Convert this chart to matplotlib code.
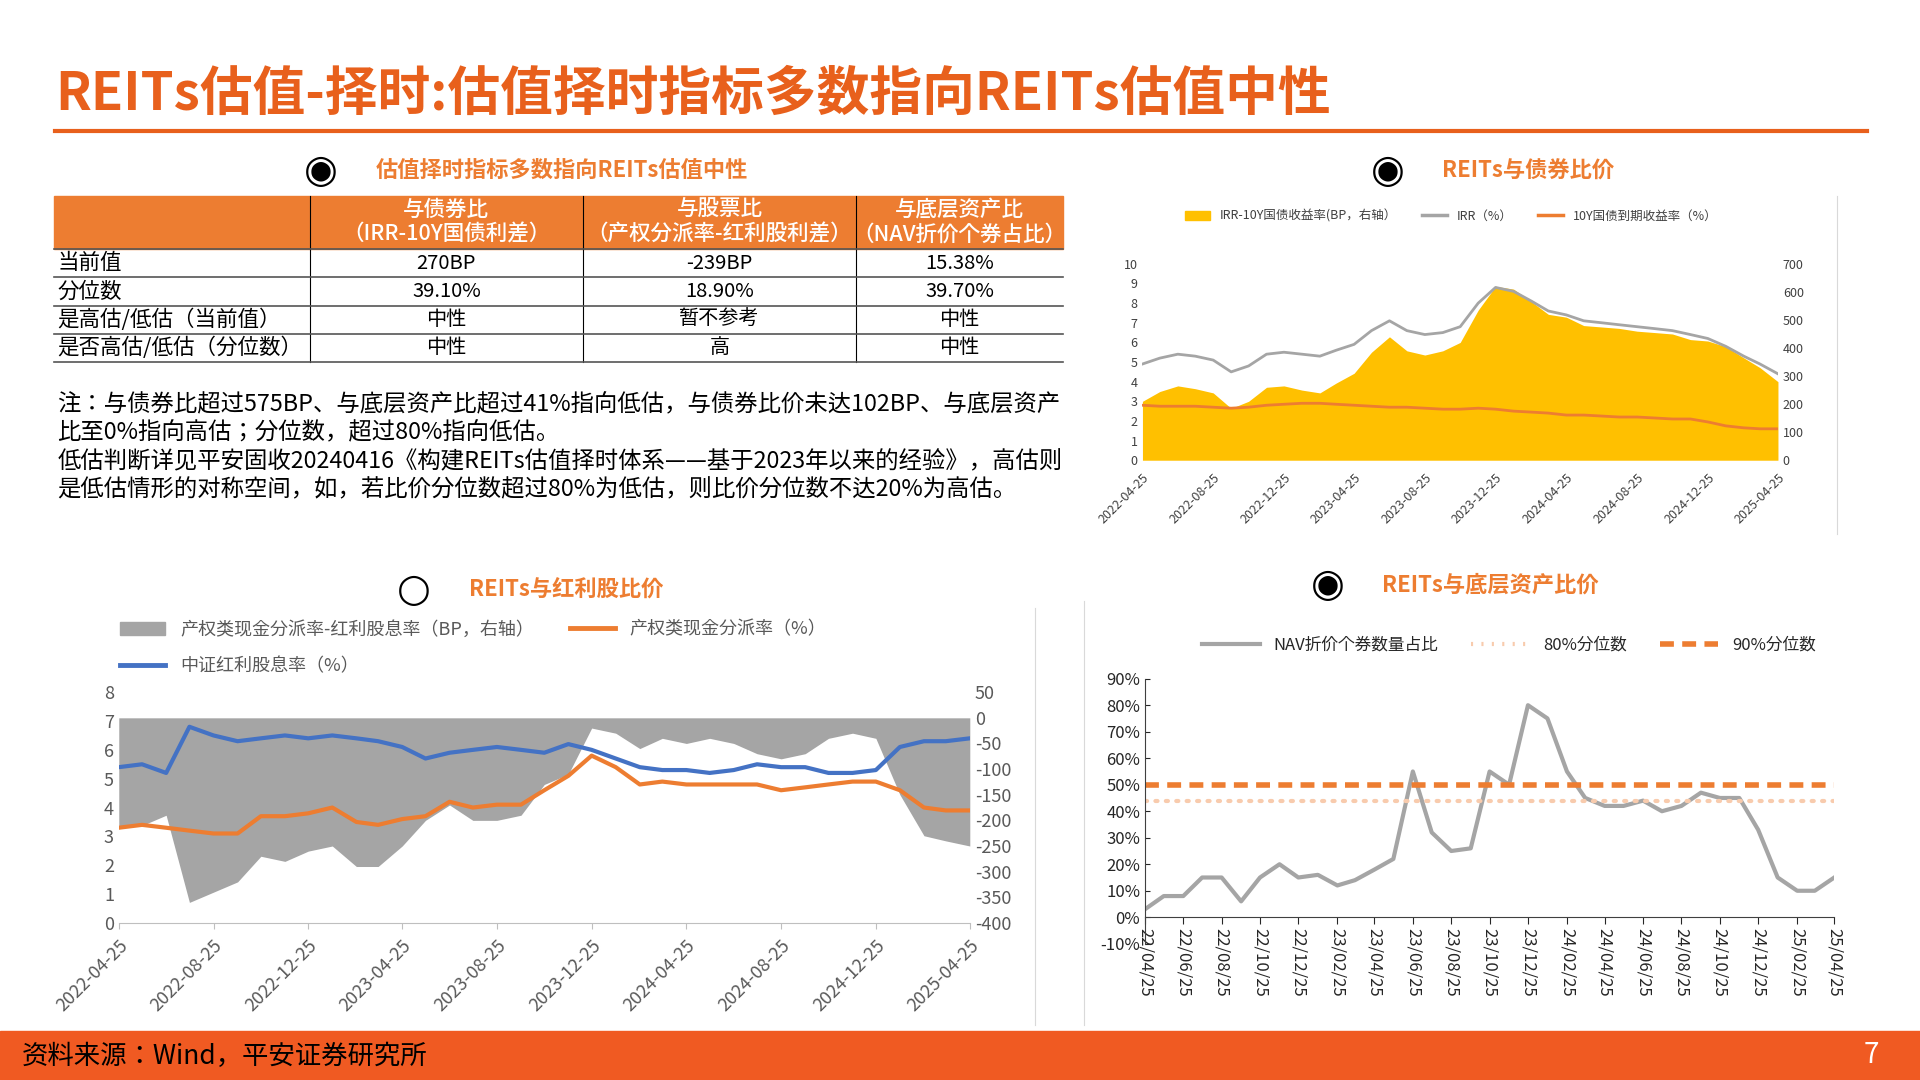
import numpy as np
import pandas as pd
import matplotlib.pyplot as plt
import matplotlib.dates as mdates
from matplotlib import font_manager as fm
from matplotlib.patches import Rectangle
from matplotlib.lines import Line2D

# find a CJK font file and register it
cjk_name = 'Noto Sans CJK SC'
for f in fm.findSystemFonts():
    if 'CJK' in f or 'cjk' in f.lower():
        try:
            fm.fontManager.addfont(f)
        except Exception:
            pass
names = {x.name for x in fm.fontManager.ttflist}
for cand in ['Noto Sans CJK SC', 'Noto Sans CJK JP', 'Noto Sans SC', 'Noto Sans CJK TC']:
    if cand in names:
        cjk_name = cand
        break
plt.rcParams['font.family'] = 'sans-serif'
plt.rcParams['font.sans-serif'] = [cjk_name, 'DejaVu Sans']
plt.rcParams['axes.unicode_minus'] = False

ORANGE = '#ED7D31'
TITLE_OR = '#E8601C'

# ---- data ----
months = pd.date_range('2022-04-01', periods=37, freq='MS') + pd.Timedelta(days=24)

irr = [4.9, 5.2, 5.4, 5.3, 5.1, 4.5, 4.8, 5.4, 5.5, 5.4, 5.3, 5.6, 5.9, 6.6, 7.1, 6.6, 6.4, 6.5, 6.8,
       8.0, 8.8, 8.6, 8.1, 7.6, 7.4, 7.1, 7.0, 6.9, 6.8, 6.7, 6.6, 6.4, 6.2, 5.8, 5.3, 4.9, 4.4]
y10 = [2.8, 2.75, 2.75, 2.75, 2.7, 2.65, 2.7, 2.8, 2.85, 2.9, 2.9, 2.85, 2.8, 2.75, 2.7, 2.7, 2.65, 2.6,
       2.6, 2.65, 2.6, 2.5, 2.45, 2.4, 2.3, 2.3, 2.25, 2.2, 2.2, 2.15, 2.1, 2.1, 1.95, 1.75, 1.65, 1.6, 1.6]

blue = [5.4, 5.5, 5.2, 6.8, 6.5, 6.3, 6.4, 6.5, 6.4, 6.5, 6.4, 6.3, 6.1, 5.7, 5.9, 6.0, 6.1, 6.0, 5.9,
        6.2, 6.0, 5.7, 5.4, 5.3, 5.3, 5.2, 5.3, 5.5, 5.4, 5.4, 5.2, 5.2, 5.3, 6.1, 6.3, 6.3, 6.4]
orange = [3.3, 3.4, 3.3, 3.2, 3.1, 3.1, 3.7, 3.7, 3.8, 4.0, 3.5, 3.4, 3.6, 3.7, 4.2, 4.0, 4.1, 4.1, 4.6,
          5.1, 5.8, 5.4, 4.8, 4.9, 4.8, 4.8, 4.8, 4.8, 4.6, 4.7, 4.8, 4.9, 4.9, 4.6, 4.0, 3.9, 3.9]

nav = [3, 8, 8, 15, 15, 6, 15, 20, 15, 16, 12, 14, 18, 22, 55, 32, 25, 26, 55, 50, 80, 75, 55, 45, 42,
       42, 44, 40, 42, 47, 45, 45, 33, 15, 10, 10, 15]
p80 = 44
p90 = 50

tbl_head = ['', '与债券比\n（IRR-10Y国债利差）', '与股票比\n（产权分派率-红利股利差）', '与底层资产比\n（NAV折价个券占比）']
tbl_rows = [['当前值', '270BP', '-239BP', '15.38%'],
            ['分位数', '39.10%', '18.90%', '39.70%'],
            ['是高估/低估（当前值）', '中性', '暂不参考', '中性'],
            ['是否高估/低估（分位数）', '中性', '高', '中性']]

W, H = 1568.0, 880.0
def fx(x): return x / W
def fy(y): return 1 - y / H

fig = plt.figure(figsize=(19.2, 10.8), dpi=100)

# ---- title + footer ----
fig.text(fx(45), fy(77), 'REITs估值-择时:估值择时指标多数指向REITs估值中性', color=TITLE_OR,
         fontsize=38, fontweight='bold', va='center')
fig.add_artist(Line2D([fx(45), fx(1525)], [fy(107), fy(107)], color=TITLE_OR, lw=3))
fig.add_artist(Rectangle((0, 0), 1, 40 / H, color='#F05A22', zorder=0))
fig.text(fx(18), fy(861), '资料来源：Wind，平安证券研究所', fontsize=19, va='center', color='black')
fig.text(fx(1528), fy(860), '7', fontsize=20, va='center', ha='center', color='white')

def section(xc, y, text, filled=True):
    fig.text(fx(xc), fy(y), '◉' if filled else '○', fontsize=28, ha='center', va='center', color='black',
             family='DejaVu Sans')
    fig.text(fx(xc + 45), fy(y), text, fontsize=16, fontweight='bold', color=ORANGE, va='center')

section(262, 139, '估值择时指标多数指向REITs估值中性')
section(1133, 139, 'REITs与债券比价')
section(338, 481, 'REITs与红利股比价', filled=False)
section(1084, 477, 'REITs与底层资产比价')

# ---- table ----
cols = [44, 253, 476, 699, 868]
fig.add_artist(Rectangle((fx(44), fy(203)), fx(868 - 44), (203 - 160) / H, color=ORANGE))
for i in range(1, 4):
    fig.text(fx((cols[i] + cols[i + 1]) / 2), fy(181), tbl_head[i], color='white', fontsize=15.5,
             ha='center', va='center', linespacing=1.15, fontweight='medium')
for c in cols[1:4]:
    fig.add_artist(Line2D([fx(c), fx(c)], [fy(160), fy(295)], color='black', lw=0.8))
rtop = 203
for r, row in enumerate(tbl_rows):
    yc = rtop + 23 * r + 11.5
    fig.add_artist(Line2D([fx(44), fx(868)], [fy(rtop + 23 * r), fy(rtop + 23 * r)], color='#555555', lw=1.2))
    fig.text(fx(47), fy(yc), row[0], fontsize=15.5, va='center')
    for i in range(1, 4):
        fig.text(fx((cols[i] + cols[i + 1]) / 2), fy(yc), row[i], fontsize=14.5, ha='center', va='center')
fig.add_artist(Line2D([fx(44), fx(868)], [fy(295), fy(295)], color='#555555', lw=1.2))

notes = ['注：与债券比超过575BP、与底层资产比超过41%指向低估，与债券比价未达102BP、与底层资产',
         '比至0%指向高估；分位数，超过80%指向低估。',
         '低估判断详见平安固收20240416《构建REITs估值择时体系——基于2023年以来的经验》，高估则',
         '是低估情形的对称空间，如，若比价分位数超过80%为低估，则比价分位数不达20%为高估。']
for k, t in enumerate(notes):
    fig.text(fx(47), fy(330 + 23 * k), t, fontsize=16.8, va='center')

# ---- top right: REITs vs bonds ----
ax1 = fig.add_axes([fx(933), fy(375), fx(519), 160 / H])
irr_a = np.array(irr)
y10_a = np.array(y10)
spread = (irr_a - y10_a) * 100
ax1r = ax1.twinx()
ax1r.fill_between(months, 0, spread, color='#FFC000', lw=0)
ax1r.set_ylim(0, 700)
ax1r.set_yticks(range(0, 701, 100))
ax1.set_zorder(ax1r.get_zorder() + 1)
ax1.patch.set_visible(False)
ax1.plot(months, irr_a, color='#A5A5A5', lw=2)
ax1.plot(months, y10_a, color=ORANGE, lw=2)
ax1.set_ylim(0, 10)
ax1.set_yticks(range(0, 11))
ax1.set_xlim(months[0], months[-1])
ax1.set_xticks(months[::4])
ax1.xaxis.set_major_formatter(mdates.DateFormatter('%Y-%m-%d'))
for a in (ax1, ax1r):
    for s in a.spines.values():
        s.set_visible(False)
    a.tick_params(length=0, labelsize=9, colors='#404040')
plt.setp(ax1.get_xticklabels(), rotation=45, ha='right', rotation_mode='anchor')
ax1.tick_params(axis='x', pad=8)
fig.legend(handles=[Rectangle((0, 0), 1, 1, color='#FFC000'),
                    Line2D([], [], color='#A5A5A5', lw=2.5), Line2D([], [], color=ORANGE, lw=2.5)],
           labels=['IRR-10Y国债收益率(BP，右轴）', 'IRR（%）', '10Y国债到期收益率（%）'],
           loc='center', bbox_to_anchor=(fx(1185), fy(176)), ncol=3, frameon=False, fontsize=9,
           handlelength=2, columnspacing=2, labelcolor='#404040')
fig.add_artist(Line2D([fx(1500), fx(1500)], [fy(160), fy(435)], color='#D9D9D9', lw=0.8))

# ---- bottom left: REITs vs dividend stocks ----
ax2 = fig.add_axes([fx(97), fy(752), fx(695), 188 / H])
blue_a = np.array(blue)
orange_a = np.array(orange)
gap = (orange_a - blue_a) * 100
ax2r = ax2.twinx()
ax2r.fill_between(months, 0, gap, color='#A5A5A5', lw=0)
ax2r.set_ylim(-400, 50)
ax2r.set_yticks(range(-400, 51, 50))
ax2.set_zorder(ax2r.get_zorder() + 1)
ax2.patch.set_visible(False)
ax2.plot(months, orange_a, color=ORANGE, lw=3)
ax2.plot(months, blue_a, color='#4472C4', lw=3)
ax2.set_ylim(0, 8)
ax2.set_yticks(range(0, 9))
ax2.set_xlim(months[0], months[-1])
ax2.set_xticks(months[::4])
ax2.xaxis.set_major_formatter(mdates.DateFormatter('%Y-%m-%d'))
for a in (ax2, ax2r):
    for s in a.spines.values():
        s.set_visible(False)
    a.tick_params(length=0, labelsize=13, colors='#595959')
ax2.spines['bottom'].set_visible(True)
ax2.spines['bottom'].set_color('#BFBFBF')
ax2.tick_params(axis='x', length=4, color='#BFBFBF', pad=6)
plt.setp(ax2.get_xticklabels(), rotation=45, ha='right', rotation_mode='anchor')
fig.legend(handles=[Rectangle((0, 0), 1, 1, color='#A5A5A5'), Line2D([], [], color=ORANGE, lw=3.5)],
           labels=['产权类现金分派率-红利股息率（BP，右轴）', '产权类现金分派率（%）'],
           loc='center left', bbox_to_anchor=(fx(85), fy(513)), ncol=2, frameon=False, fontsize=13,
           handlelength=2.5, labelcolor='#595959')
fig.legend(handles=[Line2D([], [], color='#4472C4', lw=3.5)], labels=['中证红利股息率（%）'],
           loc='center left', bbox_to_anchor=(fx(85), fy(543)), frameon=False, fontsize=13,
           handlelength=2.5, labelcolor='#595959')
fig.add_artist(Line2D([fx(845), fx(845)], [fy(495), fy(835)], color='#D9D9D9', lw=0.8))
fig.add_artist(Line2D([fx(885), fx(885)], [fy(490), fy(835)], color='#D9D9D9', lw=0.8))

# ---- bottom right: REITs vs underlying assets ----
ax3 = fig.add_axes([fx(935), fy(769), fx(563), 216 / H])
ax3.plot(months, np.array(nav) / 100, color='#A5A5A5', lw=3)
ax3.plot(months, [p80 / 100] * len(months), color='#F8CBAD', lw=3, ls=(0, (0.5, 2)), dash_capstyle='round')
ax3.plot(months, [p90 / 100] * len(months), color=ORANGE, lw=4, ls=(0, (2.5, 1.5)))
ax3.set_ylim(-0.1, 0.9)
ax3.set_yticks(np.arange(-0.1, 0.91, 0.1))
ax3.yaxis.set_major_formatter(lambda v, p: f'{v * 100:.0f}%')
ax3.set_xlim(months[0], months[-1])
ax3.set_xticks(months[::2])
ax3.xaxis.set_major_formatter(mdates.DateFormatter('%y/%m/%d'))
for s in ('top', 'right'):
    ax3.spines[s].set_visible(False)
ax3.spines['bottom'].set_position(('data', 0))
ax3.spines['left'].set_color('#404040')
ax3.spines['bottom'].set_color('#404040')
ax3.tick_params(labelsize=12, colors='#262626', direction='in')
ax3.tick_params(axis='x', direction='out', length=5, pad=3, labelrotation=-90)
fig.legend(handles=[Line2D([], [], color='#A5A5A5', lw=3),
                    Line2D([], [], color='#F8CBAD', lw=3, ls=(0, (0.5, 2))),
                    Line2D([], [], color=ORANGE, lw=4, ls=(0, (2.5, 1.5)))],
           labels=['NAV折价个券数量占比', '80%分位数', '90%分位数'],
           loc='center', bbox_to_anchor=(fx(1232), fy(526)), ncol=3, frameon=False, fontsize=12,
           handlelength=3.5, labelcolor='#262626')

fig.savefig('out.png', dpi=100)
